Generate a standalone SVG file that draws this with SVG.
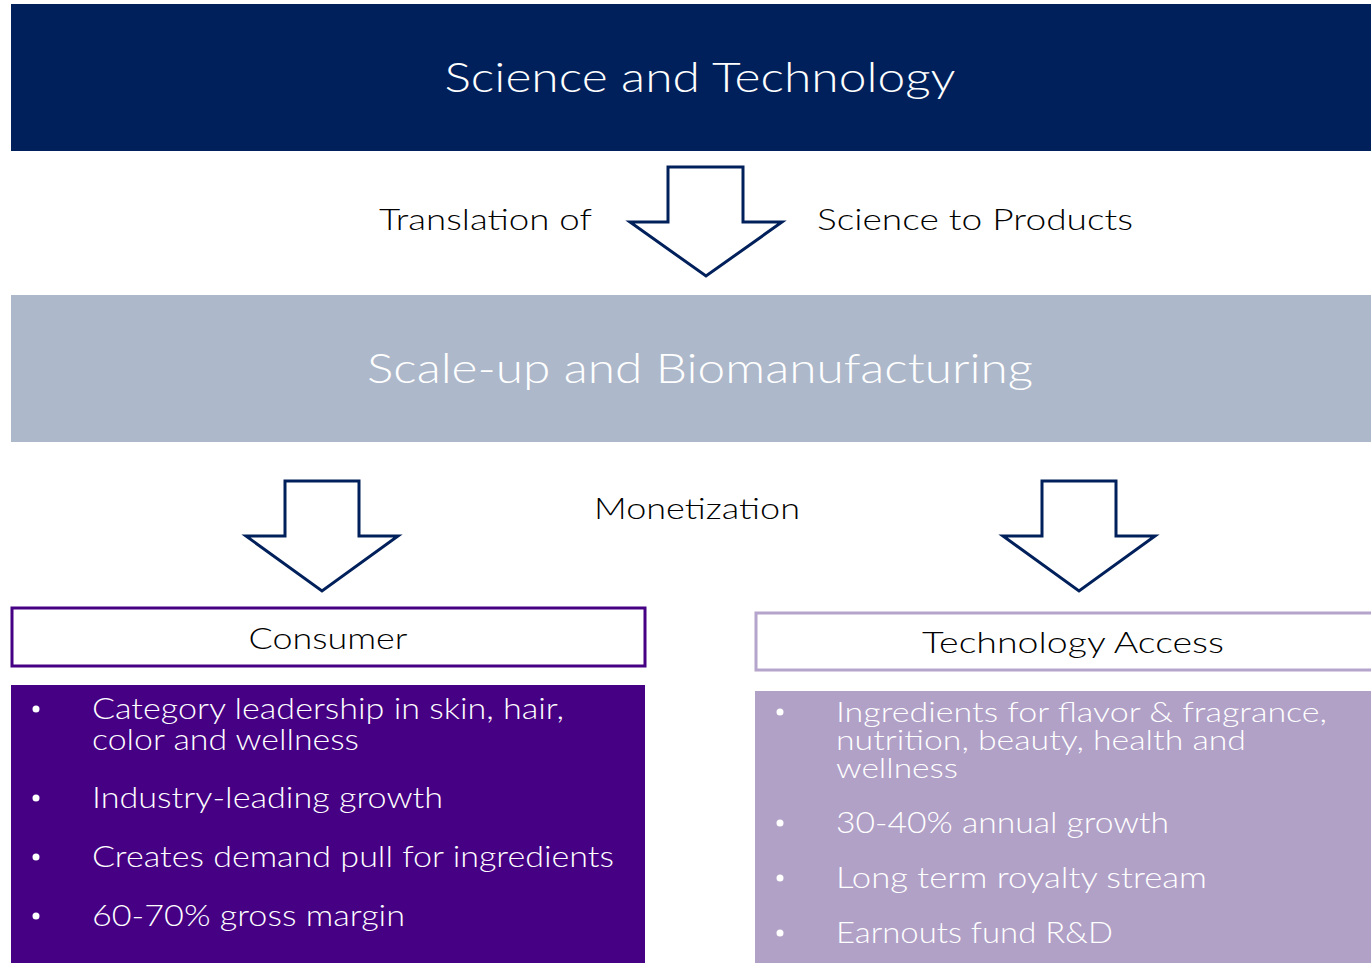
<svg xmlns="http://www.w3.org/2000/svg" width="1371" height="963" viewBox="0 0 1371 963">
  <style>
    text { font-family: "Lato", "Noto Sans", "Liberation Sans", sans-serif; font-weight: 300; }
    .title { font-size: 41px; fill: #ffffff; text-anchor: middle; }
    .label { font-size: 30px; fill: #000000; }
    .head { font-size: 30px; fill: #000000; text-anchor: middle; }
    .item { font-size: 29px; fill: #ffffff; }
    .tight { font-size: 27px; }
    .dot { fill: #ffffff; }
    .arrow { fill: #ffffff; stroke: #00205b; stroke-width: 3; stroke-linejoin: miter; }
  </style>

  <rect width="1371" height="963" fill="#ffffff"/>

  <g id="science">
    <rect x="11" y="4" width="1360" height="147" fill="#00205b"/>
    <text class="title" x="700" y="92" textLength="511" lengthAdjust="spacingAndGlyphs">Science and Technology</text>
  </g>

  <g id="translation-labels">
    <text class="label" x="379" y="230" textLength="213" lengthAdjust="spacingAndGlyphs">Translation of</text>
    <text class="label" x="817" y="230" textLength="316" lengthAdjust="spacingAndGlyphs">Science to Products</text>
  </g>

  <g id="scaleup">
    <rect x="11" y="295" width="1360" height="147" fill="#adb8ca"/>
    <text class="title" x="700" y="383" textLength="666" lengthAdjust="spacingAndGlyphs">Scale-up and Biomanufacturing</text>
  </g>

  <g id="monetization-label">
    <text class="label" x="594" y="519" textLength="206" lengthAdjust="spacingAndGlyphs">Monetization</text>
  </g>

  <g id="connectors">
    <path class="arrow" d="M668,167 H743 V222 H782 L706,276 L630,222 H668 Z"/>
    <path class="arrow" d="M285,481 H359 V536 H398 L322,591 L246,536 H285 Z"/>
    <path class="arrow" d="M1042,481 H1116 V536 H1155 L1079,591 L1003,536 H1042 Z"/>
  </g>

  <g id="consumer">
    <rect x="12" y="608" width="633" height="58" fill="#ffffff" stroke="#450084" stroke-width="3"/>
    <text class="head" x="328" y="649" textLength="159" lengthAdjust="spacingAndGlyphs">Consumer</text>
    <rect x="11" y="685" width="634" height="278" fill="#450084"/>
    <circle class="dot" cx="36" cy="709" r="3.5"/>
    <text class="item" x="92" y="719" textLength="472" lengthAdjust="spacingAndGlyphs">Category leadership in skin, hair,</text>
    <text class="item" x="92" y="750" textLength="267" lengthAdjust="spacingAndGlyphs">color and wellness</text>
    <circle class="dot" cx="36" cy="798" r="3.5"/>
    <text class="item" x="92" y="808" textLength="351" lengthAdjust="spacingAndGlyphs">Industry-leading growth</text>
    <circle class="dot" cx="36" cy="857" r="3.5"/>
    <text class="item" x="92" y="867" textLength="522" lengthAdjust="spacingAndGlyphs">Creates demand pull for ingredients</text>
    <circle class="dot" cx="36" cy="916" r="3.5"/>
    <text class="item" x="92" y="926" textLength="313" lengthAdjust="spacingAndGlyphs">60-70% gross margin</text>
  </g>

  <g id="technology-access">
    <rect x="756" y="613" width="630" height="57" fill="#ffffff" stroke="#b5a4cc" stroke-width="3"/>
    <text class="head" x="1073" y="653" textLength="302" lengthAdjust="spacingAndGlyphs">Technology Access</text>
    <rect x="755" y="691" width="616" height="272" fill="#b1a1c7"/>
    <circle class="dot" cx="780" cy="712" r="3.5"/>
    <text class="item tight" x="836" y="722" textLength="491" lengthAdjust="spacingAndGlyphs">Ingredients for flavor &amp; fragrance,</text>
    <text class="item tight" x="836" y="750" textLength="410" lengthAdjust="spacingAndGlyphs">nutrition, beauty, health and</text>
    <text class="item tight" x="836" y="778" textLength="122" lengthAdjust="spacingAndGlyphs">wellness</text>
    <circle class="dot" cx="780" cy="823" r="3.5"/>
    <text class="item" x="836" y="833" textLength="333" lengthAdjust="spacingAndGlyphs">30-40% annual growth</text>
    <circle class="dot" cx="780" cy="878" r="3.5"/>
    <text class="item" x="836" y="888" textLength="371" lengthAdjust="spacingAndGlyphs">Long term royalty stream</text>
    <circle class="dot" cx="780" cy="933" r="3.5"/>
    <text class="item" x="836" y="943" textLength="277" lengthAdjust="spacingAndGlyphs">Earnouts fund R&amp;D</text>
  </g>
</svg>
